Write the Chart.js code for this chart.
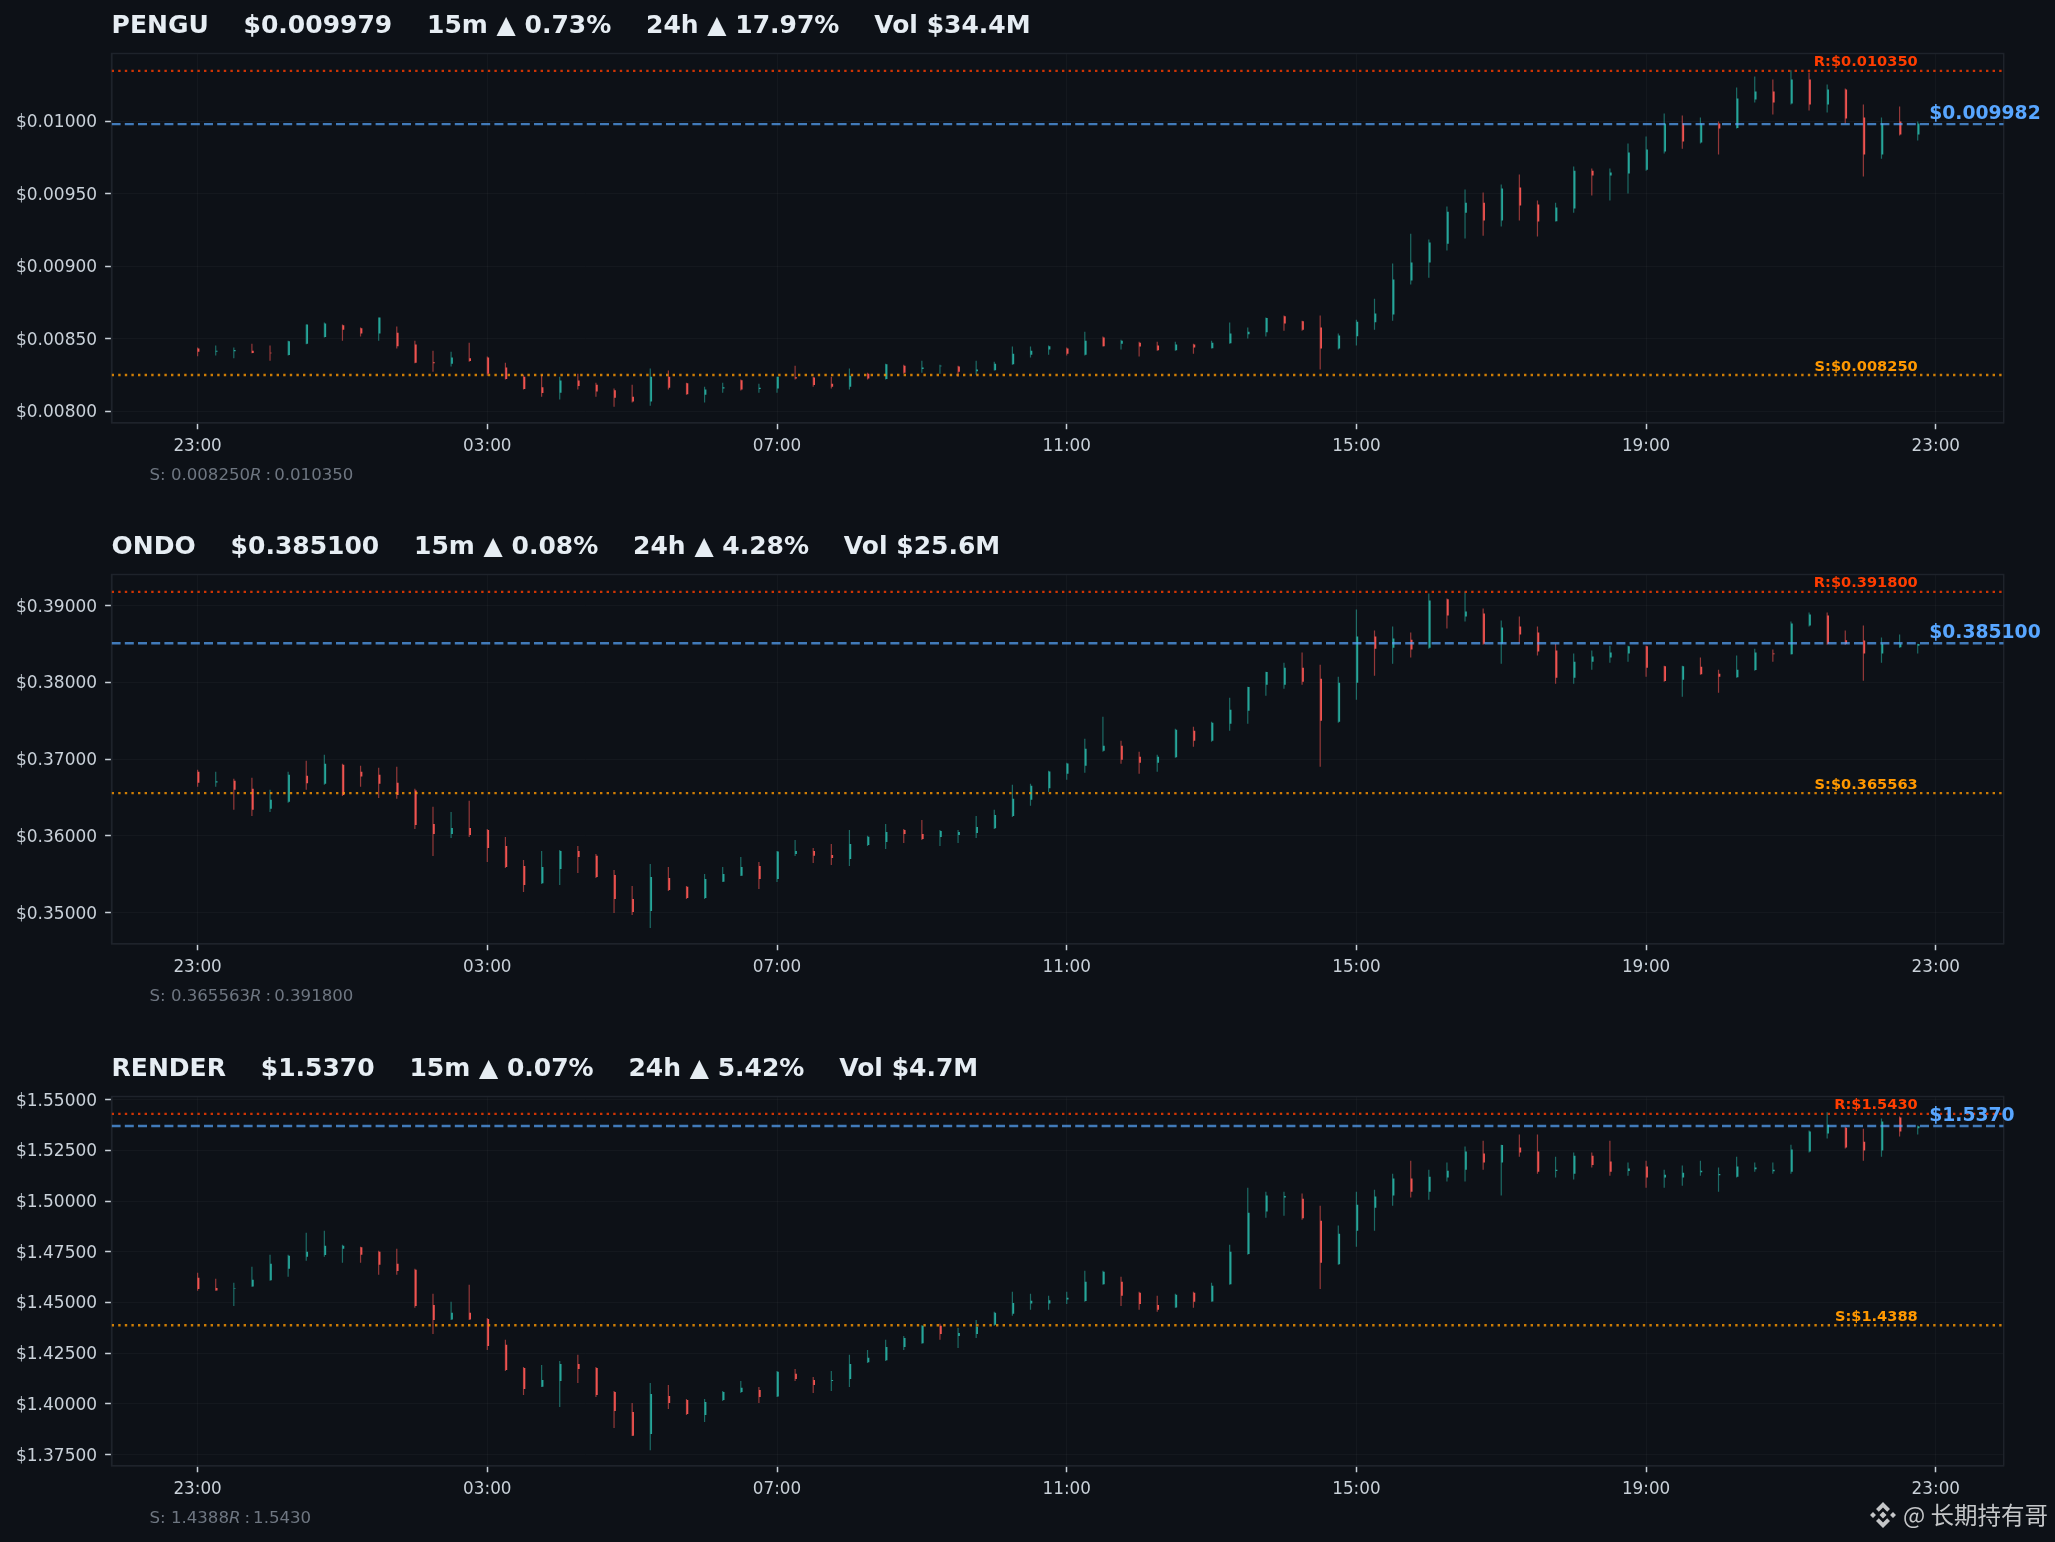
<!DOCTYPE html>
<html>
<head>
<meta charset="utf-8">
<title>PENGU ONDO RENDER</title>
<script src="https://cdn.jsdelivr.net/npm/chart.js@4/dist/chart.umd.min.js"></script>
<style>
  html, body { margin: 0; padding: 0; background: #0d1117; }
  body { position: relative; width: 2055px; height: 1542px; overflow: hidden; }
  canvas { position: absolute; left: 0; }
  #watermark {
    position: absolute; left: 1869px; top: 1499px; height: 32px; display: flex; align-items: center;
    color: #c4c6c8; font: 23.5px "Noto Sans CJK SC", sans-serif; white-space: pre;
  }
  #watermark svg { width: 28px; height: 28px; margin-right: 6px; }
  #watermark span { position: relative; top: -1px; }
</style>
</head>
<body>
<canvas id="penguChart" width="2055" height="521" style="top:0"></canvas>
<canvas id="ondoChart" width="2055" height="522" style="top:521px"></canvas>
<canvas id="renderChart" width="2055" height="499" style="top:1043px"></canvas>
<div id="watermark"><svg viewBox="0 0 28 28" fill="#c4c6c8"><path d="M14 1l7 7-2.8 2.8L14 6.6l-4.2 4.2L7 8zM14 27l7-7-2.8-2.8L14 21.4l-4.2-4.2L7 20zM1 14l3-3 3 3-3 3zM21 14l3-3 3 3-3 3zM14 10.5l3.5 3.5-3.5 3.5-3.5-3.5z"/></svg><span>@ 长期持有哥</span></div>
<script>
// Подписи оси времени (свеча 15m, метка каждые 16 свечей)
const timeLabels = ['23:00', '03:00', '07:00', '11:00', '15:00', '19:00', '23:00'];
const timeTicks = [0, 16, 32, 48, 64, 80, 96];

// --- PENGU ---
const penguTitle = 'PENGU    $0.009979    15m ▲ 0.73%    24h ▲ 17.97%    Vol $34.4M';
const penguTicks = [0.008, 0.0085, 0.009, 0.0095, 0.01];
const penguHigh = [
  0.008439,0.008453,0.008439,0.008466,0.008453,0.008487,0.008598,0.008612,0.008598,0.008577,0.008646,0.008584,0.008487,0.008418,0.008411,0.008473,
  0.008377,0.008335,0.008252,0.008252,0.008238,0.008259,0.008197,0.008156,0.008183,0.008294,0.008280,0.008197,0.008169,0.008197,0.008218,0.008190,
  0.008238,0.008314,0.008238,0.008238,0.008294,0.008266,0.008328,0.008321,0.008349,0.008321,0.008314,0.008349,0.008342,0.008446,0.008446,0.008453,
  0.008439,0.008549,0.008515,0.008494,0.008480,0.008480,0.008480,0.008466,0.008487,0.008612,0.008577,0.008646,0.008660,0.008625,0.008660,0.008536,
  0.008632,0.008777,0.009019,0.009226,0.009185,0.009413,0.009530,0.009510,0.009565,0.009634,0.009454,0.009440,0.009689,0.009675,0.009675,0.009848,
  0.009896,0.010055,0.010041,0.010028,0.010000,0.010235,0.010311,0.010290,0.010355,0.010338,0.010256,0.010228,0.010117,0.010028,0.010104,0.010000
];
const penguLow = [
  0.008379,0.008384,0.008365,0.008400,0.008349,0.008384,0.008462,0.008508,0.008487,0.008515,0.008487,0.008432,0.008331,0.008273,0.008308,0.008342,
  0.008245,0.008218,0.008149,0.008100,0.008080,0.008149,0.008100,0.008031,0.008059,0.008038,0.008149,0.008114,0.008059,0.008128,0.008142,0.008128,
  0.008128,0.008218,0.008169,0.008156,0.008149,0.008218,0.008218,0.008259,0.008266,0.008259,0.008238,0.008252,0.008280,0.008321,0.008370,0.008390,
  0.008384,0.008384,0.008446,0.008425,0.008377,0.008418,0.008418,0.008397,0.008432,0.008466,0.008501,0.008515,0.008556,0.008556,0.008287,0.008425,
  0.008453,0.008563,0.008625,0.008874,0.008922,0.009109,0.009192,0.009212,0.009275,0.009316,0.009206,0.009309,0.009371,0.009489,0.009454,0.009503,
  0.009661,0.009779,0.009813,0.009848,0.009772,0.009952,0.010131,0.010048,0.010117,0.010076,0.010062,0.009986,0.009620,0.009744,0.009903,0.009869
];
const penguOpen = [
  0.008432,0.008411,0.008413,0.008418,0.008404,0.008388,0.008466,0.008512,0.008593,0.008572,0.008536,0.008542,0.008460,0.008337,0.008328,0.008365,
  0.008370,0.008301,0.008238,0.008165,0.008128,0.008211,0.008183,0.008144,0.008100,0.008066,0.008238,0.008192,0.008114,0.008156,0.008213,0.008153,
  0.008156,0.008234,0.008232,0.008190,0.008169,0.008259,0.008222,0.008314,0.008291,0.008310,0.008308,0.008275,0.008282,0.008324,0.008390,0.008425,
  0.008432,0.008390,0.008508,0.008466,0.008473,0.008453,0.008420,0.008460,0.008434,0.008469,0.008531,0.008545,0.008655,0.008621,0.008577,0.008432,
  0.008517,0.008614,0.008667,0.008902,0.009026,0.009157,0.009371,0.009440,0.009316,0.009544,0.009427,0.009312,0.009399,0.009661,0.009627,0.009641,
  0.009668,0.009793,0.009986,0.009855,0.009986,0.009956,0.010152,0.010207,0.010124,0.010290,0.010117,0.010221,0.010028,0.009772,0.010000,0.009910
];
const penguClose = [
  0.008411,0.008418,0.008423,0.008402,0.008400,0.008483,0.008598,0.008605,0.008563,0.008536,0.008646,0.008448,0.008335,0.008331,0.008370,0.008347,
  0.008259,0.008222,0.008153,0.008126,0.008211,0.008174,0.008135,0.008093,0.008066,0.008238,0.008162,0.008116,0.008149,0.008165,0.008149,0.008162,
  0.008238,0.008225,0.008181,0.008169,0.008245,0.008225,0.008324,0.008266,0.008301,0.008314,0.008273,0.008287,0.008328,0.008397,0.008418,0.008448,
  0.008397,0.008487,0.008448,0.008487,0.008446,0.008420,0.008460,0.008439,0.008473,0.008536,0.008549,0.008644,0.008605,0.008563,0.008432,0.008522,
  0.008618,0.008674,0.008909,0.009026,0.009164,0.009378,0.009440,0.009316,0.009537,0.009420,0.009309,0.009406,0.009661,0.009627,0.009648,0.009786,
  0.009807,0.009986,0.009862,0.009986,0.009952,0.010159,0.010207,0.010131,0.010290,0.010117,0.010221,0.010021,0.009772,0.009986,0.009910,0.009986
];

// --- ONDO ---
const ondoTitle = 'ONDO    $0.385100    15m ▲ 0.08%    24h ▲ 4.28%    Vol $25.6M';
const ondoTicks = [0.35, 0.36, 0.37, 0.38, 0.39];
const ondoHigh = [
  0.36861,0.36834,0.36743,0.36756,0.36600,0.36834,0.36978,0.37056,0.36939,0.36913,0.36887,0.36900,0.36613,0.36378,0.36312,0.36456,
  0.36090,0.35986,0.35686,0.35803,0.35816,0.35869,0.35764,0.35555,0.35346,0.35634,0.35594,0.35346,0.35503,0.35594,0.35725,0.35660,
  0.35803,0.35947,0.35842,0.35895,0.36077,0.36000,0.36156,0.36090,0.36208,0.36077,0.36077,0.36260,0.36339,0.36665,0.36678,0.36848,
  0.36952,0.37265,0.37552,0.37239,0.37096,0.37056,0.37396,0.37422,0.37487,0.37800,0.37944,0.38140,0.38257,0.38388,0.38231,0.38074,
  0.38949,0.38675,0.38727,0.38649,0.39158,0.39093,0.39184,0.38962,0.38805,0.38858,0.38727,0.38505,0.38375,0.38414,0.38479,0.38479,
  0.38479,0.38218,0.38218,0.38323,0.38166,0.38349,0.38440,0.38427,0.38792,0.38910,0.38910,0.38675,0.38740,0.38584,0.38623,0.38505
];
const ondoLow = [
  0.36639,0.36639,0.36339,0.36260,0.36312,0.36430,0.36600,0.36665,0.36521,0.36639,0.36495,0.36482,0.36090,0.35738,0.35973,0.35986,
  0.35660,0.35581,0.35268,0.35373,0.35360,0.35516,0.35451,0.34994,0.34968,0.34798,0.35281,0.35177,0.35177,0.35399,0.35477,0.35307,
  0.35399,0.35738,0.35647,0.35621,0.35607,0.35869,0.35829,0.35908,0.35947,0.35869,0.35908,0.35973,0.36090,0.36247,0.36391,0.36573,
  0.36730,0.36821,0.37096,0.36939,0.36808,0.36834,0.37017,0.37161,0.37226,0.37370,0.37461,0.37827,0.37918,0.37970,0.36900,0.37474,
  0.37774,0.38088,0.38244,0.38323,0.38440,0.38701,0.38792,0.38492,0.38244,0.38505,0.38349,0.37983,0.37983,0.38166,0.38257,0.38270,
  0.38074,0.38009,0.37813,0.38101,0.37866,0.38062,0.38153,0.38270,0.38362,0.38727,0.38492,0.38492,0.38022,0.38257,0.38453,0.38375
];
const ondoOpen = [
  0.36834,0.36695,0.36717,0.36613,0.36352,0.36443,0.36782,0.36678,0.36926,0.36834,0.36795,0.36691,0.36591,0.36156,0.36025,0.36104,
  0.36077,0.35869,0.35607,0.35381,0.35568,0.35803,0.35742,0.35490,0.35177,0.35020,0.35451,0.35338,0.35190,0.35403,0.35481,0.35607,
  0.35438,0.35764,0.35803,0.35751,0.35699,0.35882,0.35921,0.36077,0.36025,0.35986,0.36012,0.36038,0.36099,0.36260,0.36469,0.36621,
  0.36808,0.36913,0.37109,0.37174,0.37030,0.36952,0.37026,0.37370,0.37239,0.37461,0.37631,0.37970,0.37970,0.38192,0.38048,0.37487,
  0.37996,0.38597,0.38453,0.38557,0.38453,0.39084,0.38858,0.38897,0.38505,0.38727,0.38649,0.38414,0.38062,0.38270,0.38323,0.38375,
  0.38470,0.38209,0.38035,0.38205,0.38114,0.38066,0.38162,0.38375,0.38366,0.38740,0.38871,0.38549,0.38545,0.38375,0.38457,0.38479
];
const ondoClose = [
  0.36691,0.36713,0.36600,0.36339,0.36469,0.36795,0.36687,0.36939,0.36534,0.36774,0.36678,0.36534,0.36143,0.36025,0.36104,0.36012,
  0.35842,0.35594,0.35360,0.35594,0.35803,0.35725,0.35464,0.35177,0.35007,0.35464,0.35294,0.35190,0.35438,0.35503,0.35594,0.35438,
  0.35795,0.35803,0.35742,0.35712,0.35895,0.35990,0.36051,0.36025,0.35960,0.36064,0.36051,0.36117,0.36273,0.36482,0.36652,0.36839,
  0.36943,0.37135,0.37174,0.36991,0.36952,0.37030,0.37383,0.37239,0.37474,0.37644,0.37940,0.38135,0.38192,0.38009,0.37500,0.37996,
  0.38597,0.38440,0.38571,0.38427,0.39067,0.38871,0.38923,0.38505,0.38714,0.38623,0.38401,0.38062,0.38270,0.38336,0.38388,0.38470,
  0.38192,0.38018,0.38209,0.38105,0.38074,0.38166,0.38388,0.38366,0.38766,0.38884,0.38505,0.38505,0.38375,0.38505,0.38505,0.38501
];

// --- RENDER ---
const renderTitle = 'RENDER    $1.5370    15m ▲ 0.07%    24h ▲ 5.42%    Vol $4.7M';
const renderTicks = [1.375, 1.4, 1.425, 1.45, 1.475, 1.5, 1.525, 1.55];
const renderHigh = [
  1.4646,1.4617,1.4597,1.4676,1.4735,1.4735,1.4844,1.4854,1.4785,1.4775,1.4755,1.4765,1.4666,1.4543,1.4503,1.4587,
  1.4424,1.4316,1.4182,1.4192,1.4212,1.4242,1.4182,1.4064,1.4004,1.4103,1.4093,1.4024,1.4024,1.4064,1.4113,1.4083,
  1.4162,1.4172,1.4133,1.4162,1.4242,1.4266,1.4316,1.4335,1.4388,1.4395,1.4375,1.4414,1.4454,1.4553,1.4543,1.4533,
  1.4553,1.4656,1.4656,1.4627,1.4553,1.4533,1.4543,1.4553,1.4597,1.4785,1.5066,1.5046,1.5046,1.5037,1.4977,1.4879,
  1.5046,1.5056,1.5135,1.5199,1.5155,1.5190,1.5269,1.5298,1.5278,1.5328,1.5328,1.5219,1.5239,1.5239,1.5298,1.5190,
  1.5199,1.5155,1.5175,1.5199,1.5165,1.5219,1.5190,1.5190,1.5278,1.5348,1.5438,1.5367,1.5357,1.5407,1.5417,1.5372
];
const renderLow = [
  1.4558,1.4558,1.4483,1.4577,1.4607,1.4627,1.4706,1.4725,1.4696,1.4696,1.4637,1.4637,1.4474,1.4345,1.4414,1.4414,
  1.4266,1.4162,1.4044,1.4083,1.3985,1.4103,1.4034,1.3881,1.3842,1.3772,1.3975,1.3945,1.3911,1.4014,1.4054,1.4004,
  1.4034,1.4113,1.4054,1.4064,1.4083,1.4202,1.4212,1.4266,1.4296,1.4316,1.4276,1.4325,1.4385,1.4434,1.4464,1.4464,
  1.4493,1.4503,1.4587,1.4483,1.4464,1.4454,1.4474,1.4474,1.4503,1.4587,1.4735,1.4918,1.4928,1.4908,1.4567,1.4686,
  1.4775,1.4854,1.4977,1.5017,1.5007,1.5096,1.5096,1.5155,1.5027,1.5219,1.5135,1.5116,1.5106,1.5165,1.5125,1.5125,
  1.5066,1.5066,1.5076,1.5125,1.5046,1.5116,1.5145,1.5135,1.5135,1.5239,1.5308,1.5259,1.5199,1.5219,1.5318,1.5328
];
const renderOpen = [
  1.4622,1.4571,1.4569,1.4579,1.4610,1.4666,1.4725,1.4734,1.4765,1.4772,1.4750,1.4691,1.4661,1.4488,1.4416,1.4449,
  1.4419,1.4291,1.4177,1.4085,1.4113,1.4197,1.4177,1.4059,1.3960,1.3851,1.4039,1.4019,1.3945,1.4019,1.4059,1.4069,
  1.4036,1.4148,1.4118,1.4113,1.4123,1.4205,1.4215,1.4281,1.4299,1.4385,1.4335,1.4345,1.4390,1.4444,1.4495,1.4495,
  1.4515,1.4507,1.4590,1.4602,1.4548,1.4488,1.4475,1.4548,1.4505,1.4590,1.4739,1.4948,1.5017,1.5012,1.4903,1.4688,
  1.4854,1.4967,1.5027,1.5111,1.5046,1.5116,1.5155,1.5234,1.5190,1.5264,1.5244,1.5148,1.5135,1.5224,1.5195,1.5148,
  1.5170,1.5116,1.5116,1.5142,1.5127,1.5120,1.5157,1.5147,1.5145,1.5244,1.5333,1.5362,1.5293,1.5249,1.5412,1.5359
];
const renderClose = [
  1.4567,1.4559,1.4572,1.4612,1.4691,1.4730,1.4750,1.4780,1.4780,1.4735,1.4686,1.4655,1.4483,1.4414,1.4449,1.4416,
  1.4286,1.4167,1.4074,1.4118,1.4197,1.4172,1.4044,1.3965,1.3843,1.4049,1.4004,1.3950,1.4009,1.4059,1.4079,1.4034,
  1.4158,1.4123,1.4093,1.4118,1.4197,1.4227,1.4281,1.4325,1.4385,1.4345,1.4350,1.4380,1.4449,1.4498,1.4508,1.4511,
  1.4523,1.4602,1.4651,1.4533,1.4493,1.4464,1.4538,1.4503,1.4582,1.4750,1.4943,1.5027,1.5025,1.4915,1.4696,1.4839,
  1.4982,1.5022,1.5111,1.5046,1.5120,1.5150,1.5244,1.5190,1.5277,1.5239,1.5145,1.5155,1.5224,1.5178,1.5145,1.5160,
  1.5116,1.5130,1.5140,1.5150,1.5134,1.5170,1.5165,1.5155,1.5254,1.5343,1.5376,1.5264,1.5249,1.5392,1.5343,1.5369
];

const FONT = '"DejaVu Sans", sans-serif';
const GREEN = '#26a69a', RED = '#ef5350';
const GREEN_WICK = 'rgba(38,166,154,0.6)', RED_WICK = 'rgba(239,83,80,0.6)';
const X_MIN = -4.75, X_MAX = 99.75;
const LAST_CANDLE = 95;

// Рамка и подписи уровней
const overlayPlugin = {
    id: 'overlay',
    beforeDatasetsDraw(chart, args, opts) {
        const { ctx, chartArea: a } = chart;
        ctx.save();
        ctx.strokeStyle = '#1e232b';
        ctx.lineWidth = 1.5;
        ctx.strokeRect(a.left, a.top, a.right - a.left, a.bottom - a.top);
        ctx.restore();
    },
    afterDraw(chart, args, opts) {
        const { ctx, chartArea: a, scales: { x, y } } = chart;
        ctx.save();
        ctx.textBaseline = 'middle';

        // R / S справа над линиями
        ctx.textAlign = 'right';
        ctx.font = `bold 14.6px ${FONT}`;
        ctx.fillStyle = '#ff3d00';
        ctx.fillText('R:$' + opts.resistanceText, x.getPixelForValue(LAST_CANDLE), y.getPixelForValue(opts.resistance) - 8.2);
        ctx.fillStyle = '#ff9800';
        ctx.fillText('S:$' + opts.supportText, x.getPixelForValue(LAST_CANDLE), y.getPixelForValue(opts.support) - 8);

        // Текущая цена
        ctx.textAlign = 'left';
        ctx.font = `bold 18.75px ${FONT}`;
        ctx.fillStyle = '#58a6ff';
        ctx.fillText('$' + opts.priceText, x.getPixelForValue(LAST_CANDLE) + 11.5, y.getPixelForValue(opts.price) - 9.9);

        // Строка S/R под осью
        const lineY = a.bottom + 52.5;
        ctx.fillStyle = '#6e7681';
        ctx.font = `16.6px ${FONT}`;
        const sText = 'S: ' + opts.supportText;
        const left = 149.5;
        ctx.fillText(sText, left, lineY);
        let px = left + ctx.measureText(sText).width;
        ctx.font = `italic 16.6px ${FONT}`;
        ctx.fillText('R', px, lineY);
        px += ctx.measureText('R').width + 4;
        ctx.font = `16.6px ${FONT}`;
        ctx.fillText(':', px, lineY);
        px += ctx.measureText(':').width + 3;
        ctx.fillText(opts.resistanceText, px, lineY);
        ctx.restore();
    }
};

function levelDataset(value, color, dash) {
    return {
        type: 'line',
        data: [{ x: X_MIN, y: value }, { x: X_MAX, y: value }],
        borderColor: color,
        borderWidth: 2.4,
        borderDash: dash,
        pointRadius: 0,
        order: 0
    };
}

function renderPanel(canvasId, title, tickValues, yMin, yMax, open, high, low, close, support, resistance, price, supportText, resistanceText, priceText) {
    const canvas = document.getElementById(canvasId);
    const isUp = i => close[i] >= open[i];
    const wicks = high.map((h, i) => ({ x: i, y: [low[i], h] }));
    const bodies = open.map((o, i) => ({ x: i + 0.05, y: [Math.min(o, close[i]), Math.max(o, close[i])] }));

    return new Chart(canvas, {
        type: 'bar',
        data: {
            datasets: [
                levelDataset(resistance, 'rgba(255,61,0,0.8)', [2.4, 4.2]),
                levelDataset(support, 'rgba(255,152,0,0.8)', [2.4, 4.2]),
                levelDataset(price, 'rgba(88,166,255,0.7)', [9, 4.2]),
                {
                    data: wicks,
                    backgroundColor: high.map((h, i) => isUp(i) ? GREEN_WICK : RED_WICK),
                    barThickness: 1.2,
                    inflateAmount: 0,
                    grouped: false,
                    order: 2
                },
                {
                    data: bodies,
                    backgroundColor: high.map((h, i) => isUp(i) ? GREEN : RED),
                    barThickness: 1.8,
                    inflateAmount: 0,
                    grouped: false,
                    order: 1
                }
            ]
        },
        options: {
            responsive: false,
            animation: false,
            events: [],
            layout: { padding: { top: 2, left: 0, right: 51.3, bottom: 0 } },
            plugins: {
                legend: { display: false },
                tooltip: { enabled: false },
                title: {
                    display: true,
                    text: title,
                    align: 'start',
                    fullSize: false,
                    color: '#e6edf3',
                    font: { family: FONT, size: 25, weight: 'bold' },
                    padding: { top: 9.4, bottom: 12.1 }
                },
                overlay: { support, resistance, price, supportText, resistanceText, priceText }
            },
            scales: {
                x: {
                    type: 'linear',
                    min: X_MIN,
                    max: X_MAX,
                    offset: false,
                    afterFit: s => { s.height = canvas.height - 422.75; },
                    afterBuildTicks: s => { s.ticks = timeTicks.map(value => ({ value })); },
                    grid: { offset: false, color: 'rgba(255,255,255,0.03)', tickColor: '#c9d1d9', tickWidth: 1.5, tickLength: 6.5 },
                    border: { color: '#1e232b', width: 1.5 },
                    ticks: {
                        color: '#c9d1d9',
                        font: { family: FONT, size: 16.8 },
                        padding: 7,
                        maxRotation: 0,
                        autoSkip: false,
                        callback: (value, idx) => timeLabels[idx]
                    }
                },
                y: {
                    min: yMin,
                    max: yMax,
                    afterFit: s => { s.width = 111.6; },
                    afterBuildTicks: s => { s.ticks = tickValues.map(value => ({ value })); },
                    grid: { color: 'rgba(255,255,255,0.03)', tickColor: '#c9d1d9', tickWidth: 1.5, tickLength: 6.5 },
                    border: { color: '#1e232b', width: 1.5 },
                    ticks: {
                        color: '#c9d1d9',
                        font: { family: FONT, size: 17 },
                        padding: 8,
                        labelOffset: 1.5,
                        autoSkip: false,
                        callback: value => '$' + Number(value).toFixed(5)
                    }
                }
            }
        },
        plugins: [overlayPlugin]
    });
}

renderPanel('penguChart', penguTitle, penguTicks, 0.00792, 0.01047, penguOpen, penguHigh, penguLow, penguClose,
    0.00825, 0.01035, 0.009982, '0.008250', '0.010350', '0.009982');
renderPanel('ondoChart', ondoTitle, ondoTicks, 0.34594, 0.39406, ondoOpen, ondoHigh, ondoLow, ondoClose,
    0.365563, 0.3918, 0.3851, '0.365563', '0.391800', '0.385100');
renderPanel('renderChart', renderTitle, renderTicks, 1.3695, 1.55156, renderOpen, renderHigh, renderLow, renderClose,
    1.4388, 1.543, 1.537, '1.4388', '1.5430', '1.5370');
</script>
</body>
</html>
